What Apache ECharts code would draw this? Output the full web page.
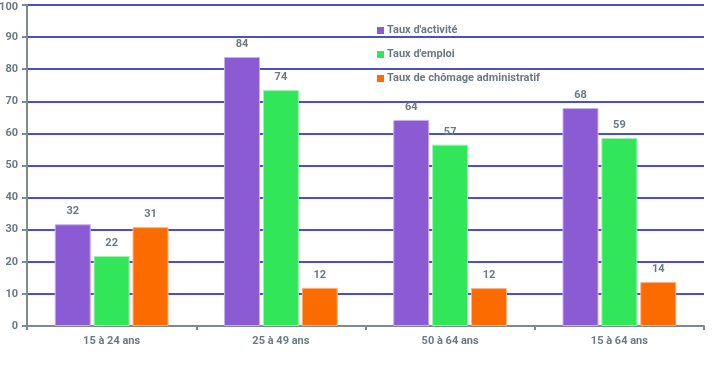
<!DOCTYPE html>
<html><head><meta charset="utf-8">
<script src="https://cdn.jsdelivr.net/npm/echarts@6/dist/echarts.min.js"></script>
<style>html,body{margin:0;padding:0;background:#fff}#c{width:722px;height:366px}</style>
</head><body><div id="c"></div>
<script>
const categories = ['15 à 24 ans', '25 à 49 ans', '50 à 64 ans', '15 à 64 ans'];
const tauxActivite = [31.7, 83.8, 64.2, 67.9];
const tauxEmploi = [21.8, 73.5, 56.5, 58.6];
const tauxChomage = [30.8, 11.9, 11.8, 13.7];
const seriesNames = ["Taux d'activité", "Taux d'emploi", "Taux de chômage administratif"];
const colors = ['#8b5bd3', '#32e659', '#fb6b00'];
const borders = ['#c7b0ee', '#9ff2b0', '#fdb380'];
const font = "Roboto, 'Liberation Sans', sans-serif";
const weight = 'bold';
const textColor = '#6b7a82';
const chart = echarts.init(document.getElementById('c'));
const mk = (name, data, i) => ({
  name, type: 'bar', data, barWidth: 36, barGap: '8%',
  itemStyle: { color: colors[i], borderColor: borders[i], borderWidth: 1 },
  label: { show: true, position: 'top', distance: 7, color: textColor, fontFamily: font, fontSize: 11, fontWeight: weight,
    formatter: p => Math.round(p.value) }
});
chart.setOption({
  animation: false,
  grid: { left: 27, right: 18, top: 5, bottom: 40, containLabel: false, outerBoundsMode: 'none' },
  legend: {
    orient: 'vertical', left: 372, top: 20, itemGap: 13, itemWidth: 7, itemHeight: 7, icon: 'rect',
    itemStyle: { borderWidth: 0 },
    textStyle: { color: textColor, fontFamily: font, fontSize: 11, fontWeight: weight, padding: [0,0,0,-2] },
    data: seriesNames
  },
  xAxis: {
    type: 'category', data: categories,
    axisLine: { lineStyle: { color: '#7d8b90', width: 2 } },
    axisTick: { show: true, length: 4, lineStyle: { color: '#7d8b90', width: 2 } },
    axisLabel: { color: textColor, fontFamily: font, fontSize: 11, fontWeight: weight, margin: 10 }
  },
  yAxis: {
    type: 'value', min: 0, max: 100, interval: 10,
    axisLine: { show: true, lineStyle: { color: '#7d8b90', width: 2 } },
    axisTick: { show: true, length: 5, lineStyle: { color: '#7d8b90', width: 2 } },
    axisLabel: { color: textColor, fontFamily: font, fontSize: 11, fontWeight: weight, margin: 9,
      formatter: v => v === 100 ? '{top|' + v + '}' : String(v),
      rich: { top: { color: textColor, fontFamily: font, fontSize: 11, fontWeight: weight, padding: [5, 0, 0, 0] } } },
    splitLine: { lineStyle: { color: '#4b4fcc', width: 2 } }
  },
  series: [mk(seriesNames[0], tauxActivite, 0), mk(seriesNames[1], tauxEmploi, 1), mk(seriesNames[2], tauxChomage, 2)]
});
</script></body></html>
